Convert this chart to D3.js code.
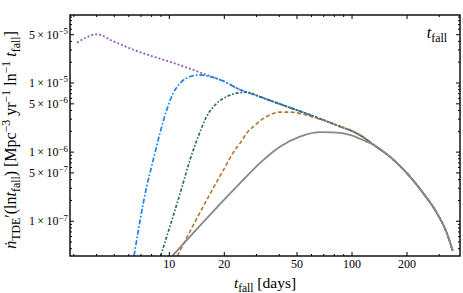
<!DOCTYPE html>
<html>
<head>
<meta charset="utf-8">
<script src="https://cdn.jsdelivr.net/npm/d3@7"></script>
<style>
  body { margin: 0; background: #fff; }
  text { font-family: "Liberation Serif", "DejaVu Serif", serif; fill: #000; }
</style>
</head>
<body>
<script>

// shared tail that every curve follows once it has risen
var tEnvelope = [5, 6.4, 8.2, 10, 13.5, 16, 20, 24.4, 30, 40, 56.5, 70, 86, 100, 111, 131, 161, 199, 245, 291, 330, 356];
var vEnvelope = [3.96e-5, 3.01e-5, 2.41e-5, 2.04e-5, 1.55e-5, 1.31e-5, 1.05e-5, 8.0e-6, 6.6e-6, 5.0e-6, 3.6e-6, 2.9e-6,
                 2.35e-6, 2.02e-6, 1.75e-6, 1.28e-6, 8.6e-7, 5.0e-7, 2.56e-7, 1.32e-7, 6.8e-8, 3.7e-8];

// rising part of each curve, then the t where it joins the envelope
var tPurple = [3.13, 3.53, 3.97];
var vPurple = [3.84e-5, 4.59e-5, 5.07e-5];
var joinPurple = 5;

var tBlue = [6.41, 7.52, 8.17, 8.89, 9.68, 10.5, 11.45, 12.98, 14.7, 16.7];
var vBlue = [3.16e-8, 3.18e-7, 7.74e-7, 1.88e-6, 4.08e-6, 7.13e-6, 9.93e-6, 1.24e-5, 1.31e-5, 1.24e-5];
var joinBlue = 20;

var tGreen = [8.97, 11.69, 12.98, 14.4, 16.0, 18.2, 20.6, 23.4, 27.0];
var vGreen = [3.16e-8, 3.02e-7, 7.74e-7, 1.68e-6, 3.27e-6, 5.1e-6, 6.35e-6, 7.13e-6, 7.36e-6];
var joinGreen = 30;

var tBrown = [11.06, 17.4, 19.8, 22.9, 24.4, 27.0, 28.8, 34.1, 40.3, 45.8, 54.1, 64.1];
var vBrown = [3.16e-8, 3.02e-7, 5.55e-7, 1.08e-6, 1.35e-6, 1.99e-6, 2.34e-6, 3.27e-6, 3.79e-6, 3.79e-6, 3.54e-6, 3.1e-6];
var joinBrown = 70;

var tGray = [10.4, 16.7, 24.4, 31.3, 40.3, 51.9, 66.8, 79, 97.5, 120];
var vGray = [3.16e-8, 1.24e-7, 3.56e-7, 6.93e-7, 1.2e-6, 1.68e-6, 1.95e-6, 1.93e-6, 1.78e-6, 1.42e-6];
var joinGray = 131;

// axis ticks
var xMajor = [10, 20, 50, 100, 200],
    xLabels = ["10", "20", "50", "100", "200"],
    xMinor = [3, 4, 5, 6, 7, 8, 9, 30, 40, 60, 70, 80, 90, 300];
var yMajor = [5e-5, 1e-5, 5e-6, 1e-6, 5e-7, 1e-7],
    yMant = ["5", "1", "5", "1", "5", "1"],
    yExp = ["\u22125", "\u22125", "\u22126", "\u22126", "\u22127", "\u22127"],
    yMinor = [9e-5, 8e-5, 7e-5, 6e-5, 4e-5, 3e-5, 2e-5, 9e-6, 8e-6, 7e-6, 6e-6, 4e-6, 3e-6, 2e-6,
              9e-7, 8e-7, 7e-7, 6e-7, 4e-7, 3e-7, 2e-7, 9e-8, 8e-8, 7e-8, 6e-8, 5e-8, 4e-8];

var width = 463,
    height = 293,
    margin = {top: 15, right: 3, bottom: 37, left: 70};

var x0 = margin.left, x1 = width - margin.right,
    y0 = margin.top, y1 = height - margin.bottom;

var xScale = d3.scaleLog()
    .domain([Math.pow(10, 0.4565), Math.pow(10, 2.591)])
    .range([x0, x1]);

var yScale = d3.scaleLog()
    .domain([Math.pow(10, -7.503), Math.pow(10, -4.016)])
    .range([y1, y0]);

function build(ts, vs, join) {
    var pts = ts.map(function(t, i) { return {t: t, v: vs[i]}; });
    tEnvelope.forEach(function(t, i) {
        if (t >= join) pts.push({t: t, v: vEnvelope[i]});
    });
    return pts;
}

var series = [
    {pts: build(tPurple, vPurple, joinPurple), color: "rgb(138,82,176)", dash: "1.8,2.2", w: 1.8},
    {pts: build(tBlue, vBlue, joinBlue), color: "rgb(24,132,240)", dash: "5,2,1.6,2", w: 1.7},
    {pts: build(tGreen, vGreen, joinGreen), color: "rgb(42,110,96)", dash: "3.2,1.8,1.6,1.8", w: 1.7},
    {pts: build(tBrown, vBrown, joinBrown), color: "rgb(180,116,56)", dash: "4,2.4", w: 1.6},
    {pts: build(tGray, vGray, joinGray), color: "rgb(136,136,136)", dash: null, w: 1.8}
];

var svg = d3.select("body")
    .append("svg")
    .attr("width", width)
    .attr("height", height);

svg.append("clipPath")
    .attr("id", "plotclip")
    .append("rect")
    .attr("x", x0).attr("y", y0)
    .attr("width", x1 - x0).attr("height", y1 - y0);

var line = d3.line()
    .x(function(d) { return xScale(d.t); })
    .y(function(d) { return yScale(d.v); })
    .curve(d3.curveMonotoneX);

var curves = svg.append("g").attr("clip-path", "url(#plotclip)");

series.forEach(function(s) {
    curves.append("path")
        .datum(s.pts)
        .attr("d", line)
        .attr("fill", "none")
        .attr("stroke", s.color)
        .attr("stroke-width", s.w)
        .attr("stroke-dasharray", s.dash);
});

// ticks, pointing inward on all four sides
var ticks = svg.append("g").attr("stroke", "#000").attr("stroke-width", 1);

function xTick(t, len) {
    var px = xScale(t);
    ticks.append("line").attr("x1", px).attr("x2", px).attr("y1", y1).attr("y2", y1 - len);
    ticks.append("line").attr("x1", px).attr("x2", px).attr("y1", y0).attr("y2", y0 + len);
}
function yTick(v, len) {
    var py = yScale(v);
    ticks.append("line").attr("x1", x0).attr("x2", x0 + len).attr("y1", py).attr("y2", py);
    ticks.append("line").attr("x1", x1).attr("x2", x1 - len).attr("y1", py).attr("y2", py);
}
xMajor.forEach(function(t) { xTick(t, 4); });
xMinor.forEach(function(t) { xTick(t, 2); });
yMajor.forEach(function(v) { yTick(v, 4); });
yMinor.forEach(function(v) { yTick(v, 2); });

svg.append("rect")
    .attr("x", x0).attr("y", y0)
    .attr("width", x1 - x0).attr("height", y1 - y0)
    .attr("fill", "none")
    .attr("stroke", "#000")
    .attr("stroke-width", 1.4);

// text with sub/superscripts: parts are [text, "sub"|"sup"|null, italic]
function rich(sel, parts, size) {
    var shift = 0;
    parts.forEach(function(p) {
        var target = p[1] === "sub" ? 0.28 * size : p[1] === "sup" ? -0.38 * size : 0;
        var ts = sel.append("tspan").text(p[0]).attr("dy", target - shift);
        shift = target;
        if (p[1]) ts.attr("font-size", size * 0.74);
        if (p[2]) ts.attr("font-style", "italic");
    });
}

svg.selectAll(".xlab")
    .data(xMajor)
    .enter()
    .append("text")
    .attr("class", "xlab")
    .attr("x", function(d) { return xScale(d); })
    .attr("y", y1 + 12)
    .attr("text-anchor", "middle")
    .attr("font-size", 12)
    .text(function(d, i) { return xLabels[i]; });

yMajor.forEach(function(v, i) {
    var t = svg.append("text")
        .attr("x", x0 - 2)
        .attr("y", yScale(v) + 4)
        .attr("text-anchor", "end")
        .attr("font-size", 12);
    rich(t, [[yMant[i] + "\u2009\u00d7\u200910", null], [yExp[i], "sup"]], 12);
});

var xl = svg.append("text")
    .attr("x", (x0 + x1) / 2)
    .attr("y", 288)
    .attr("text-anchor", "middle")
    .attr("font-size", 15.5);
rich(xl, [["t", null, true], ["fall", "sub"], [" [days]", null]], 15.5);

var yl = svg.append("text")
    .attr("transform", "translate(16,140) rotate(-90)")
    .attr("text-anchor", "middle")
    .attr("font-size", 16);
rich(yl, [["\u1e45", null, true], ["TDE", "sub"], ["\u2032(ln", null], ["t", null, true], ["fall", "sub"],
          [") [Mpc", null], ["\u22123", "sup"], [" yr", null], ["\u22121", "sup"], [" ln", null], ["\u22121", "sup"],
          [" ", null], ["t", null, true], ["fall", "sub"], ["]", null]], 16);

var corner = svg.append("text")
    .attr("x", 447)
    .attr("y", 38)
    .attr("text-anchor", "end")
    .attr("font-size", 16);
rich(corner, [["t", null, true], ["fall", "sub"]], 16);

</script>
</body>
</html>
